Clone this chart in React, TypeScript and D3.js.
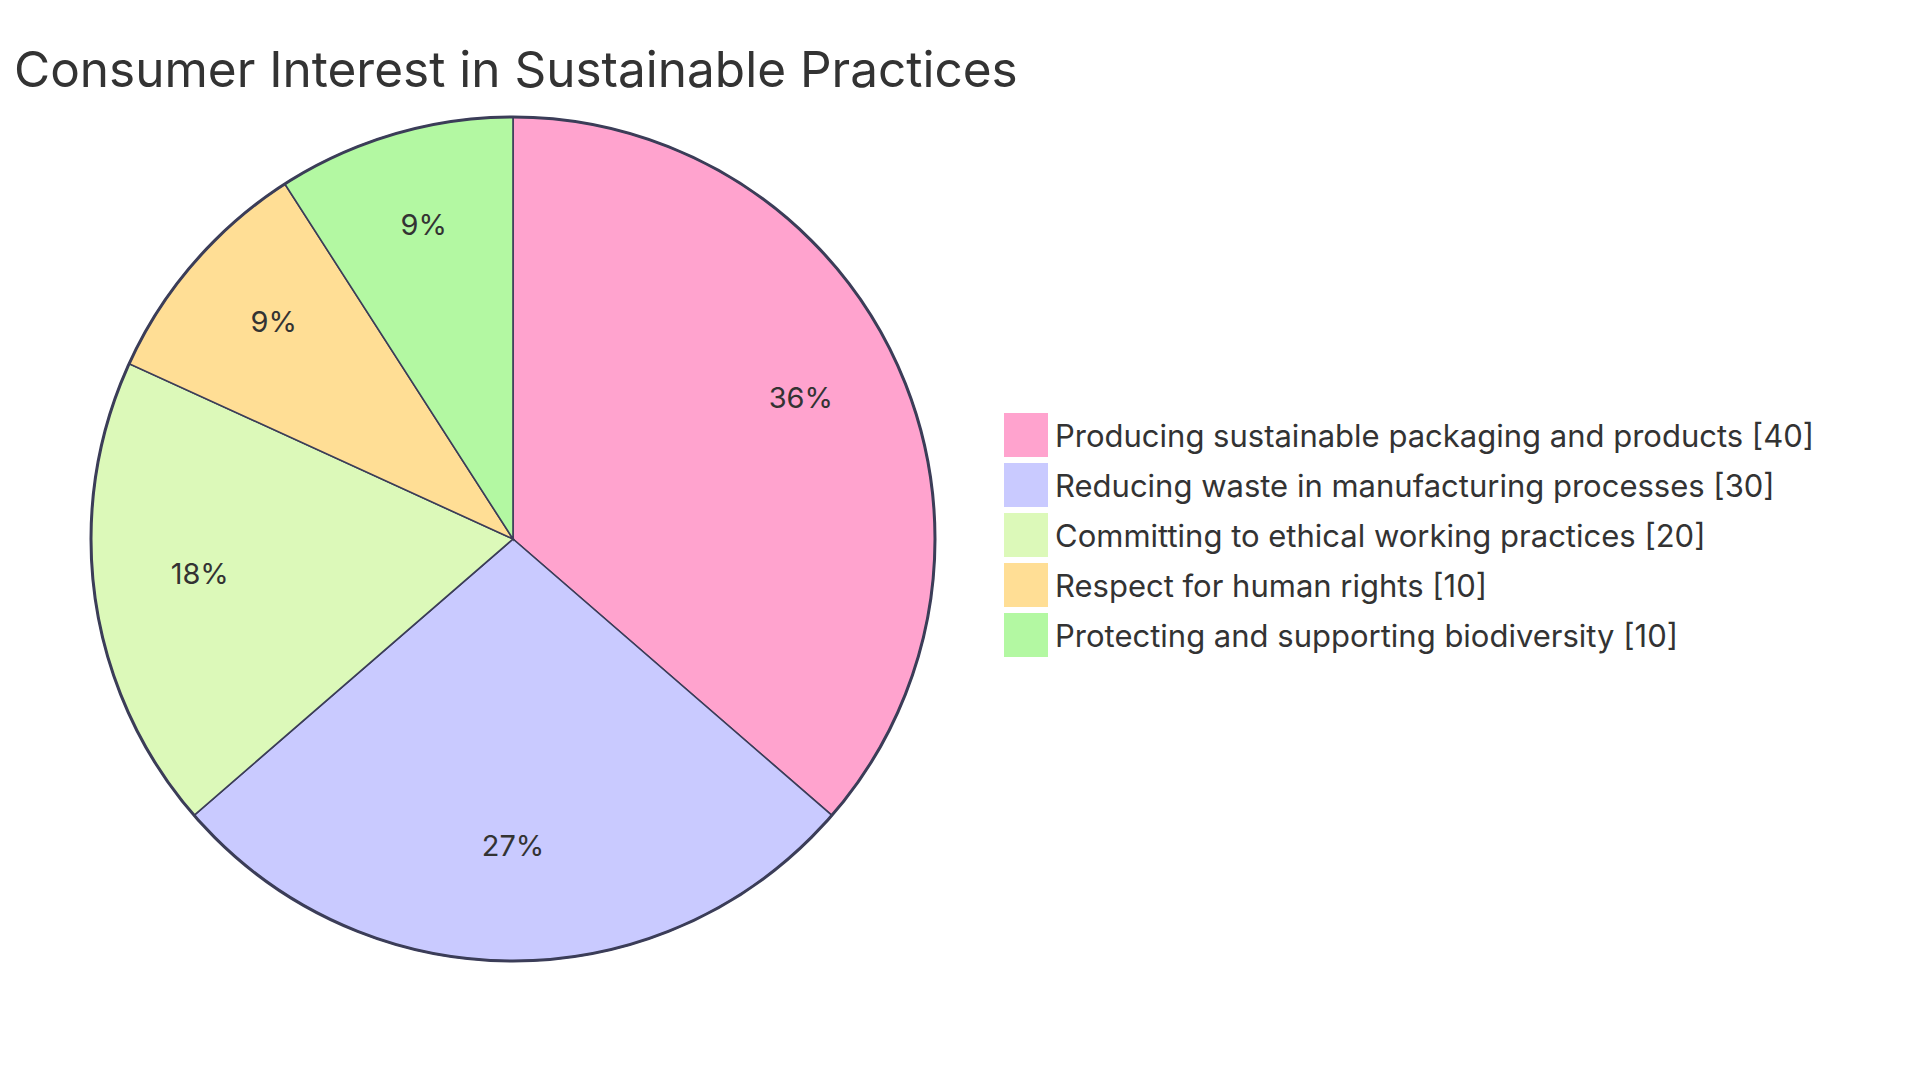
import React from 'react';
import * as d3 from 'd3';

// Chart data
const title = 'Consumer Interest in Sustainable Practices';
const categories = [
    'Producing sustainable packaging and products',
    'Reducing waste in manufacturing processes',
    'Committing to ethical working practices',
    'Respect for human rights',
    'Protecting and supporting biodiversity'
];
const values = [40, 30, 20, 10, 10];
const sliceColors = ['#ffa3ce', '#c9caff', '#dcf9b9', '#ffde95', '#b3f8a2'];

const WIDTH = 1920;
const HEIGHT = 1080;
const CX = 513;
const CY = 539;
const RADIUS = 422;
const STROKE = '#3b3d58';
const FONT = 'Inter, "Noto Sans", sans-serif';

const App = () => {
    const total = d3.sum(values);
    const pie = d3.pie<number>().sort(null).value(d => d);
    const arcs = pie(values);
    const arcGen = d3.arc<d3.PieArcDatum<number>>().innerRadius(0).outerRadius(RADIUS);
    const labelArc = d3.arc<d3.PieArcDatum<number>>()
        .innerRadius(RADIUS * 0.75)
        .outerRadius(RADIUS * 0.75);

    const legendX = 1004;
    const legendY = 413;
    const legendStep = 50;
    const box = 44;

    return (
        <svg
            width={WIDTH}
            height={HEIGHT}
            style={{ position: 'absolute', left: 0, top: 0, background: '#fff' }}
        >
            <text x={14} y={87} fontFamily={FONT} fontSize={49.5} fill="#333">
                {title}
            </text>

            <g transform={`translate(${CX},${CY})`}>
                {arcs.map((a, i) => (
                    <path
                        key={i}
                        d={arcGen(a) || ''}
                        fill={sliceColors[i]}
                        stroke={STROKE}
                        strokeWidth={1.6}
                    />
                ))}
                <circle r={RADIUS} fill="none" stroke={STROKE} strokeWidth={3} />
                {arcs.map((a, i) => {
                    const [x, y] = labelArc.centroid(a);
                    return (
                        <text
                            key={i}
                            x={x}
                            y={y}
                            textAnchor="middle"
                            fontFamily={FONT}
                            fontSize={29}
                            fill="#333"
                        >
                            {`${((a.value / total) * 100).toFixed(0)}%`}
                        </text>
                    );
                })}
            </g>

            <g>
                {categories.map((c, i) => (
                    <g key={c} transform={`translate(${legendX},${legendY + i * legendStep})`}>
                        <rect width={box} height={box} fill={sliceColors[i]} />
                        <text
                            x={51}
                            y={34}
                            fontFamily={FONT}
                            fontSize={31}
                            fill="#333"
                        >
                            {`${c} [${values[i]}]`}
                        </text>
                    </g>
                ))}
            </g>
        </svg>
    );
};

export default App;
